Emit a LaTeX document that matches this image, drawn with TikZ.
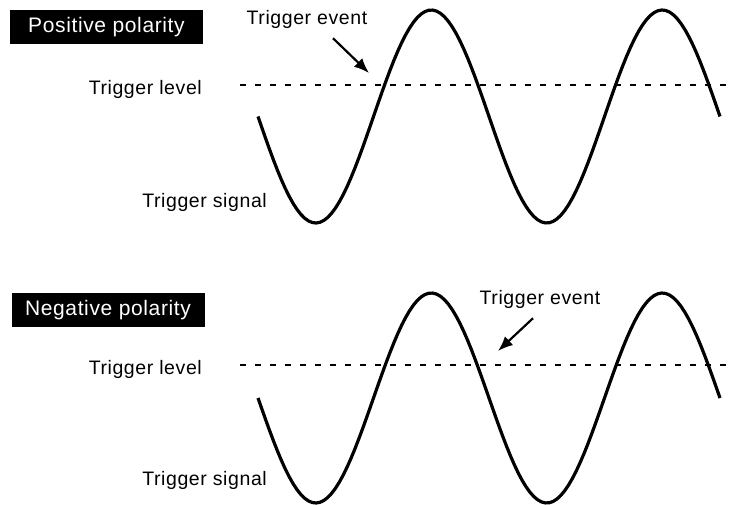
\documentclass[tikz,border=0pt]{standalone}
\usepackage{fontspec}
\setmainfont{Liberation Sans}[LetterSpace=3]
\usetikzlibrary{calc}
\usetikzlibrary{arrows.meta}

\begin{document}
\begin{tikzpicture}[x=1pt,y=-1pt,
    lbl/.style={inner sep=0pt,font=\fontsize{19.5}{22}\selectfont},
    tag/.style={fill=black,text=white,inner sep=0pt,minimum width=193pt,minimum height=34pt,font=\fontsize{21}{24}\selectfont},
    wave/.style={line width=3.2pt,line join=round},
    level/.style={line width=1.3pt,dash pattern=on 6pt off 9pt},
    pointer/.style={line width=2.2pt,-{Latex[length=15pt,width=12pt]}}]
    \useasboundingbox (0,0) rectangle (734,505);
    % positive polarity
    \node[tag] (pos) at (106.5,27) {Positive polarity};
    \node[lbl,anchor=base east] (lev1) at (202,95) {Trigger level};
    \node[lbl,anchor=base east] (sig1) at (267,208) {Trigger signal};
    \node[lbl,anchor=base] (evt1) at (307,25) {Trigger event};
    \coordinate (hit1) at (369,73);
    \draw[level] (240,85) -- (727,85);
    \draw[wave] plot[domain=0:462,samples=120] ({258+\x},{116.5+106.5*sin(\x/231*360)});
    \draw[pointer] ($(evt1.south)+(26,9)$) -- (hit1);
    % negative polarity
    \node[tag] (neg) at (108,310) {Negative polarity};
    \node[lbl,anchor=base east] (lev2) at (202,374) {Trigger level};
    \node[lbl,anchor=base east] (sig2) at (267,485) {Trigger signal};
    \node[lbl,anchor=base] (evt2) at (540,305) {Trigger event};
    \coordinate (hit2) at (498,351);
    \draw[level] (240,365) -- (727,365);
    \draw[wave] plot[domain=0:462,samples=120] ({258+\x},{398+105*sin(\x/231*360)});
    \draw[pointer] ($(evt2.south)+(-7,9)$) -- (hit2);
\end{tikzpicture}
\end{document}
